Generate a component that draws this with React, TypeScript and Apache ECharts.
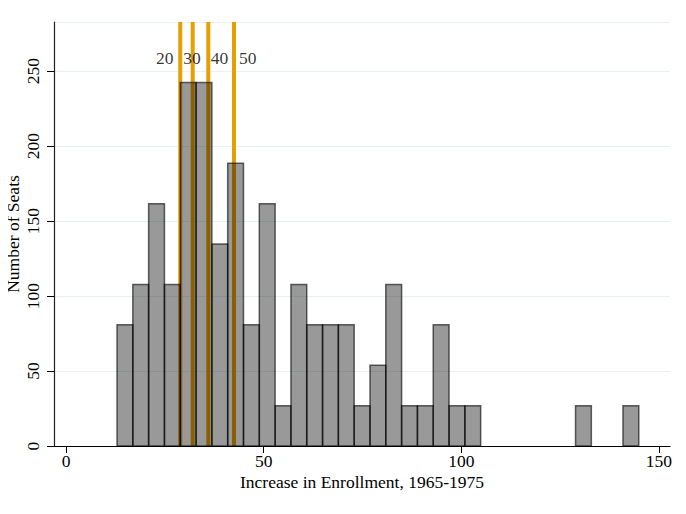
import React, { useEffect, useRef } from "react";
import * as echarts from "echarts";

// Histogram bins (width 4, starting at 12.9)
const binStart = 12.9;
const binWidth = 4;
const seats = [
  80.8, 107.7, 161.6, 107.7, 242.3, 242.3, 134.6, 188.5, 80.8, 161.6, 26.9,
  107.7, 80.8, 80.8, 80.8, 26.9, 53.9, 107.7, 26.9, 26.9, 80.8, 26.9, 26.9,
  0, 0, 0, 0, 0, 0, 26.9, 0, 0, 26.9,
];

// Percentile reference lines
const percentileValues = [28.9, 32.05, 36.0, 42.5];
const percentileLabels = ["20", "30", "40", "50"];
const labelX = [25.0, 31.9, 38.8, 46.0];
const labelY = 259;

const xTicks = [0, 50, 100, 150];
const xMin = -3.04;
const xMax = 152.8;
const yMax = 282.7;

const FONT = "Liberation Serif";

export default function App() {
  const ref = useRef<HTMLDivElement>(null);

  useEffect(() => {
    if (!ref.current) return;
    const chart = echarts.init(ref.current, undefined, { renderer: "svg" });

    const barData = seats
      .map((v, i) => [binStart + i * binWidth, binStart + (i + 1) * binWidth, v])
      .filter((d) => d[2] > 0);

    chart.setOption({
      animation: false,
      backgroundColor: "#ffffff",
      grid: {
        left: 54,
        right: 16,
        top: 22,
        bottom: 68,
        containLabel: false,
        outerBoundsMode: "none",
      },
      xAxis: {
        type: "value",
        min: xMin,
        max: xMax,
        name: "Increase in Enrollment, 1965-1975",
        nameLocation: "middle",
        nameGap: 27,
        nameMoveOverlap: false,
        nameTextStyle: { fontFamily: FONT, fontSize: 17.5, color: "#000" },
        axisLine: { show: true, onZero: false, lineStyle: { color: "#000", width: 1.2 } },
        axisTick: {
          show: true,
          length: 7,
          customValues: xTicks,
          lineStyle: { color: "#000", width: 1 },
        },
        axisLabel: {
          customValues: xTicks,
          margin: 6,
          fontFamily: FONT,
          fontSize: 17.5,
          color: "#000",
        },
        splitLine: { show: false },
      },
      yAxis: {
        type: "value",
        min: 0,
        max: yMax,
        interval: 50,
        name: "Number of Seats",
        nameLocation: "middle",
        nameGap: 32,
        nameMoveOverlap: false,
        nameTextStyle: { fontFamily: FONT, fontSize: 17.5, color: "#000" },
        axisLine: { show: true, onZero: false, lineStyle: { color: "#222", width: 1.2 } },
        axisTick: { show: true, length: 7, lineStyle: { color: "#000", width: 1 } },
        axisLabel: {
          rotate: 90,
          margin: 12,
          fontFamily: FONT,
          fontSize: 17.5,
          color: "#000",
          showMaxLabel: false,
        },
        splitLine: { show: true, lineStyle: { color: "#e8f0f2", width: 1.2 } },
      },
      series: [
        {
          type: "custom",
          name: "percentiles",
          z: 1,
          data: percentileValues.map((v) => [v, 0]),
          renderItem: (params: any, api: any) => {
            const v = api.value(0);
            const p0 = api.coord([v, 0]);
            const p1 = api.coord([v, yMax]);
            return {
              type: "line",
              shape: { x1: p0[0], y1: p0[1], x2: p1[0], y2: p1[1] },
              style: { stroke: "#E69F00", lineWidth: 4 },
            };
          },
        },
        {
          type: "custom",
          name: "seats",
          z: 2,
          data: barData,
          encode: { x: [0, 1], y: 2 },
          renderItem: (params: any, api: any) => {
            const a = api.coord([api.value(0), api.value(2)]);
            const b = api.coord([api.value(1), 0]);
            return {
              type: "rect",
              shape: { x: a[0], y: a[1], width: b[0] - a[0], height: b[1] - a[1] },
              style: {
                fill: "rgba(0,0,0,0.4)",
                stroke: "rgba(0,0,0,0.6)",
                lineWidth: 1.5,
              },
            };
          },
        },
        {
          type: "scatter",
          name: "labels",
          z: 3,
          symbolSize: 0,
          data: labelX.map((x, i) => ({ value: [x, labelY], name: percentileLabels[i] })),
          label: {
            show: true,
            position: "inside",
            formatter: (p: any) => p.name,
            fontFamily: FONT,
            fontSize: 17.5,
            color: "#000",
          },
          silent: true,
        },
      ],
    });

    return () => chart.dispose();
  }, []);

  return <div ref={ref} style={{ width: 686, height: 514, marginLeft: -8, marginTop: -8 }} />;
}
